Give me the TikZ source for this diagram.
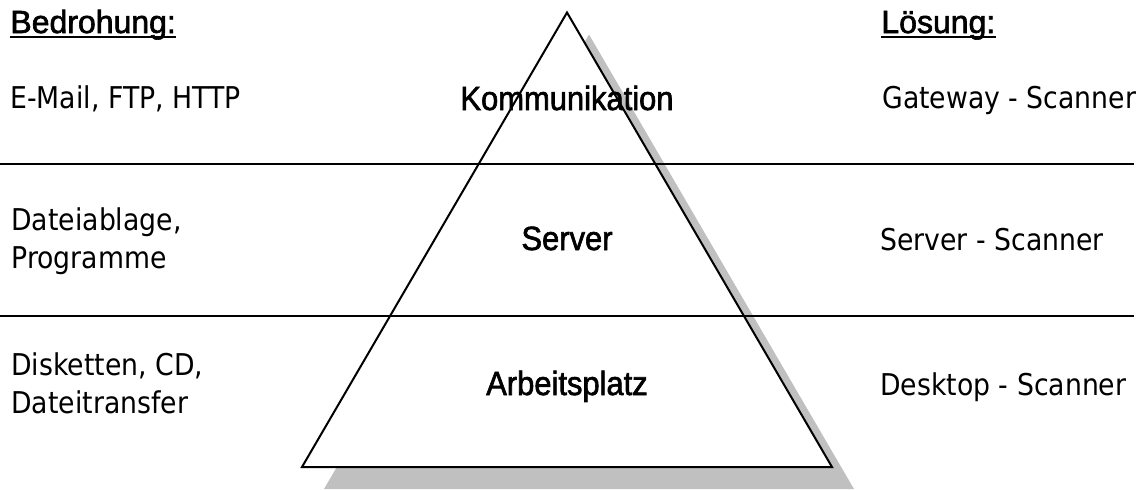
\documentclass[tikz,border=0pt]{standalone}
\usepackage{fontspec}
\setmainfont{Liberation Sans}
\newfontfamily\listfont[FakeStretch=0.89]{DejaVu Sans}
\newfontfamily\labfont[FakeStretch=0.92,FakeBold=1.8]{Liberation Sans}
\newfontfamily\headfont[FakeBold=2]{Liberation Sans}
\definecolor{shadowgray}{HTML}{C0C0C0}
\tikzset{
  listtext/.style={inner sep=0pt, anchor=base west, align=left, font=\listfont\fontsize{15}{19}\selectfont},
  headtext/.style={inner sep=0pt, anchor=base west, font=\headfont\fontsize{16}{19}\selectfont},
  leveltext/.style={inner sep=0pt, anchor=base, font=\labfont\fontsize{16.8}{20}\selectfont},
  rule/.style={line width=1pt},
  pyramid/.style={line width=1pt, line join=miter},
  uline/.style={line width=1pt}
}
\begin{document}
\begin{tikzpicture}[x=0.5pt,y=-0.5pt]
\useasboundingbox (0,0) rectangle (1140,489);
% pyramid corners
\coordinate (apex) at (567,12.5);
\coordinate (bl) at (302,467);
\coordinate (br) at (832,467);
% shadow
\fill[shadowgray] ([shift={(22,22)}]apex) -- ([shift={(22,22)}]bl) -- ([shift={(22,22)}]br) -- cycle;
\fill[white] (apex) -- (bl) -- (br) -- cycle;
% separating rules
\coordinate (r1a) at (0,164);
\coordinate (r1b) at (1134,164);
\coordinate (r2a) at (0,316);
\coordinate (r2b) at (1134,316);
\draw[rule] (r1a) -- (r1b);
\draw[rule] (r2a) -- (r2b);
% pyramid outline
\draw[pyramid] (apex) -- (bl) -- (br) -- cycle;
% headers
\node[headtext] (hthreat) at (10,33) {Bedrohung:};
\node[headtext] (hsol) at (881,33) {Lösung:};
\draw[uline] ([yshift=-2pt]hthreat.base west) -- ([yshift=-2pt]hthreat.base east);
\draw[uline] ([yshift=-2pt]hsol.base west) -- ([yshift=-2pt]hsol.base east);
% threats (base = baseline of last line)
\node[listtext] (t1) at (10,108) {E-Mail, FTP, HTTP};
\node[listtext] (t2) at (11,268) {Dateiablage,\\Programme};
\node[listtext] (t3) at (11,413) {Disketten, CD,\\Dateitransfer};
% levels
\node[leveltext] (k) at (567,110) {Kommunikation};
\node[leveltext] (s) at (567,250) {Server};
\node[leveltext] (a) at (567,395) {Arbeitsplatz};
% solutions
\node[listtext] (s1) at (882,108) {Gateway - Scanner};
\node[listtext] (s2) at (880,250) {Server - Scanner};
\node[listtext] (s3) at (880,395) {Desktop - Scanner};
\end{tikzpicture}
\end{document}
